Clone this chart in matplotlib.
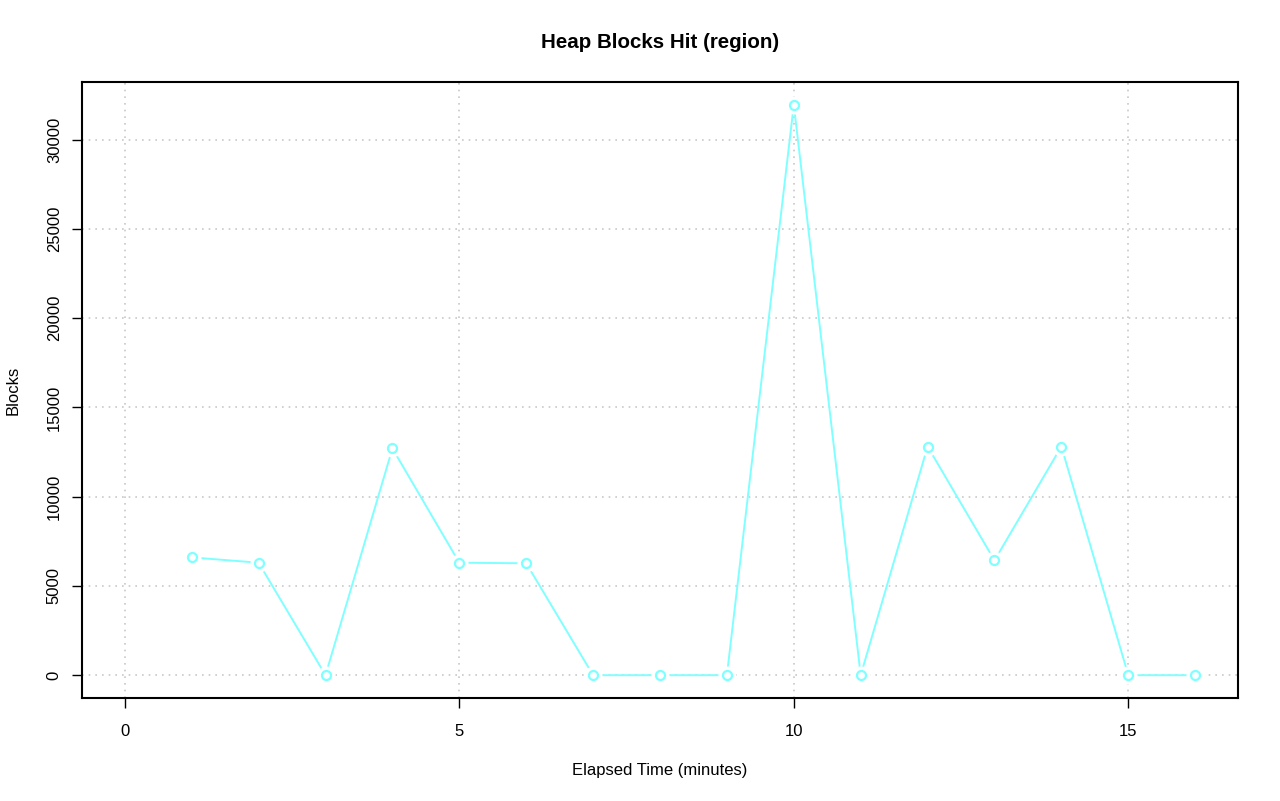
import matplotlib
matplotlib.use("Agg")
import matplotlib.pyplot as plt

elapsed = list(range(1, 17))
blocks = [6600, 6300, 0, 12700, 6300, 6270, 0, 0, 0, 31950, 0, 12810, 6430, 12810, 0, 0]
xticks = [0, 5, 10, 15]
yticks = [0, 5000, 10000, 15000, 20000, 25000, 30000]

plt.rcParams['font.family'] = ['Liberation Sans', 'DejaVu Sans']
fig = plt.figure(figsize=(12.8, 8.01), dpi=100)
ax = fig.add_axes([82/1280, 1-698/801, (1238-82)/1280, (698-82)/801])

col = '#80FFFF'
ax.plot(elapsed, blocks, color=col, lw=1.4, zorder=2)
ax.plot(elapsed, blocks, 'o', ms=12, mfc='white', mec='white', zorder=3)
ax.plot(elapsed, blocks, 'o', ms=6.5, mfc='white', mec=col, mew=1.6, zorder=4)

xmin, xmax = 0, 16
ymin, ymax = 0, max(blocks)
dx = (xmax-xmin)*0.04
dy = (ymax-ymin)*0.04
ax.set_xlim(xmin-dx, xmax+dx)
ax.set_ylim(ymin-dy, ymax+dy)
ax.set_xticks(xticks)
ax.set_yticks(yticks)
ax.set_yticklabels([str(v) for v in yticks], rotation=90, va='center')
ax.tick_params(direction='out', length=7, width=1, labelsize=12)
ax.tick_params(axis='x', pad=12)
ax.tick_params(axis='y', pad=7.5)
ax.grid(True, color='#c8c8c8', linestyle=(0, (1, 3)), lw=1.2, zorder=1)
for s in ax.spines.values():
    s.set_linewidth(1.5)

fig.suptitle('Heap Blocks Hit (region)', x=660/1280, y=1-43/801, va='center',
             fontsize=14.8, fontweight='bold')
ax.set_xlabel('Elapsed Time (minutes)', fontsize=12)
ax.set_ylabel('Blocks', fontsize=12)
ax.xaxis.set_label_coords(0.5, (698-770)/616)
ax.xaxis.label.set_va('center')
ax.yaxis.set_label_coords((13-82)/1156, 0.5)
ax.yaxis.label.set_va('center')

fig.savefig('out.png', dpi=100)
